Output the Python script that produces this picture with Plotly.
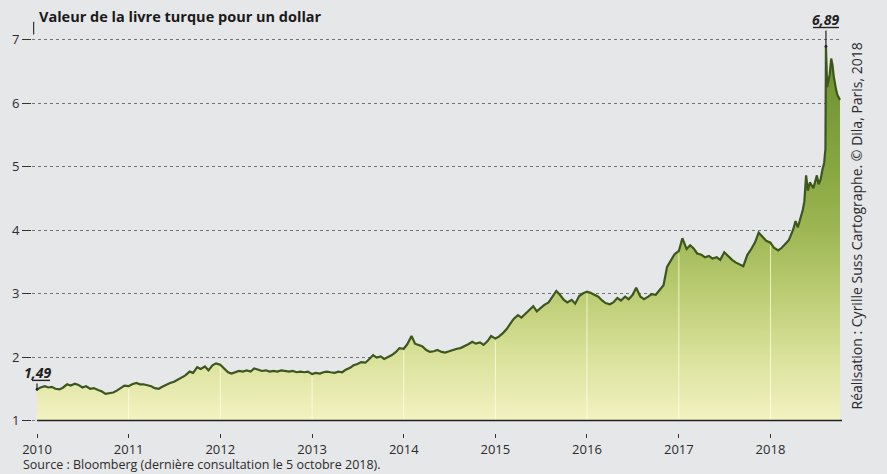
import plotly.graph_objects as go

# Semi-monthly readings (1st and 15th of each month), USD/TRY
v2010 = [1.49, 1.52, 1.54, 1.52, 1.53, 1.50, 1.49, 1.52, 1.57, 1.55, 1.58, 1.56,
         1.52, 1.54, 1.50, 1.51, 1.48, 1.46, 1.42, 1.43, 1.44, 1.47, 1.52, 1.55]
v2011 = [1.54, 1.57, 1.59, 1.57, 1.57, 1.56, 1.54, 1.51, 1.50, 1.53, 1.57, 1.59,
         1.61, 1.64, 1.67, 1.71, 1.77, 1.75, 1.84, 1.81, 1.85, 1.79, 1.87, 1.90]
v2012 = [1.88, 1.83, 1.76, 1.74, 1.76, 1.78, 1.77, 1.79, 1.77, 1.82, 1.80, 1.78,
         1.79, 1.77, 1.78, 1.77, 1.79, 1.78, 1.77, 1.78, 1.76, 1.77, 1.76, 1.77]
v2013 = [1.73, 1.75, 1.74, 1.76, 1.77, 1.76, 1.75, 1.77, 1.76, 1.80, 1.83, 1.87,
         1.89, 1.92, 1.91, 1.96, 2.03, 1.99, 2.01, 1.97, 2.00, 2.03, 2.08, 2.14]
v2014 = [2.13, 2.20, 2.33, 2.21, 2.19, 2.17, 2.11, 2.08, 2.09, 2.11, 2.08, 2.07,
         2.09, 2.11, 2.13, 2.14, 2.17, 2.20, 2.24, 2.21, 2.23, 2.19, 2.25, 2.33]
v2015 = [2.29, 2.32, 2.38, 2.44, 2.52, 2.60, 2.66, 2.62, 2.68, 2.74, 2.80, 2.72,
         2.78, 2.82, 2.86, 2.94, 3.04, 2.98, 2.90, 2.86, 2.90, 2.84, 2.96, 3.00]
v2016 = [3.03, 3.01, 2.98, 2.95, 2.89, 2.85, 2.83, 2.86, 2.93, 2.89, 2.95, 2.91,
         2.98, 3.09, 2.95, 2.91, 2.95, 2.99, 2.98, 3.04, 3.13, 3.42, 3.52, 3.62]
v2017 = [3.67, 3.87, 3.70, 3.76, 3.71, 3.63, 3.61, 3.57, 3.59, 3.55, 3.57, 3.53,
         3.65, 3.59, 3.53, 3.49, 3.46, 3.43, 3.61, 3.69, 3.81, 3.96, 3.89, 3.83]

# 2018: irregular dates
d2018 = ["2018-01-01", "2018-01-15", "2018-02-01", "2018-02-15", "2018-03-01", "2018-03-15",
         "2018-04-01", "2018-04-11", "2018-04-20", "2018-05-01", "2018-05-10", "2018-05-16",
         "2018-05-23", "2018-05-30", "2018-06-07", "2018-06-21", "2018-07-05", "2018-07-12",
         "2018-07-20", "2018-07-27", "2018-08-03", "2018-08-08", "2018-08-10", "2018-08-15",
         "2018-08-20", "2018-08-25", "2018-08-31", "2018-09-05", "2018-09-10", "2018-09-15",
         "2018-09-20", "2018-09-25", "2018-10-01", "2018-10-05"]
v2018 = [3.80, 3.72, 3.68, 3.72, 3.78, 3.84,
         4.00, 4.14, 4.04, 4.18, 4.32, 4.45,
         4.86, 4.62, 4.75, 4.66, 4.86, 4.72,
         4.80, 4.95, 5.06, 5.28, 6.89, 6.25,
         6.35, 6.45, 6.70, 6.60, 6.42, 6.28,
         6.20, 6.12, 6.06, 6.05]

year_ticks = [2010, 2011, 2012, 2013, 2014, 2015, 2016, 2017, 2018]
y_ticks = [1, 2, 3, 4, 5, 6, 7]

title = "Valeur de la livre turque pour un dollar"
source = "Source : Bloomberg (dernière consultation le 5 octobre 2018)."
credit = "Réalisation : Cyrille Suss Cartographe. © Dila, Paris, 2018"

# ---- build series ----
series = {2010: v2010, 2011: v2011, 2012: v2012, 2013: v2013,
          2014: v2014, 2015: v2015, 2016: v2016, 2017: v2017}
dates, vals = [], []
for yr, vs in series.items():
    for i, v in enumerate(vs):
        dates.append(f"{yr}-{i // 2 + 1:02d}-{1 if i % 2 == 0 else 15:02d}")
        vals.append(v)
dates += d2018
vals += v2018

FONT = "Open Sans"
TXT = "#2b2b2b"
BG = "#e6e7e9"

fig = go.Figure()
# baseline (y = 1) used as fill boundary
fig.add_trace(go.Scatter(x=[dates[0], dates[-1]], y=[1, 1], mode="lines",
                         line=dict(width=0), hoverinfo="skip", showlegend=False))
fig.add_trace(go.Scatter(
    x=dates, y=vals, mode="lines", fill="tonexty",
    line=dict(color="#3c561c", width=2.2),
    fillgradient=dict(type="vertical", start=1, stop=7,
                      colorscale=[[0.0, "#f3f2c2"], [0.17, "#d9e19a"], [0.33, "#bccd74"],
                                  [0.5, "#9db653"], [0.67, "#86a640"], [1.0, "#698d2d"]]),
    showlegend=False))

shapes = []
# vertical pale year lines inside the fill
lookup = dict(zip(dates, vals))
for yr in year_ticks[1:]:
    d = f"{yr}-01-01"
    shapes.append(dict(type="line", xref="x", yref="y", x0=d, x1=d, y0=1, y1=lookup[d] - 0.04,
                       line=dict(color="rgba(255,255,228,0.75)", width=1), layer="above"))
# solid baseline at 1
shapes.append(dict(type="line", xref="x", yref="y", x0=dates[0], x1="2018-10-13", y0=1, y1=1,
                   line=dict(color="#222", width=1.6), layer="above"))
# small axis stub beside the title
shapes.append(dict(type="line", xref="paper", yref="y", x0=0.002, x1=0.002, y0=7.08, y1=7.28,
                   line=dict(color="#333", width=1.2)))

# label underlines
i_peak = vals.index(max(vals))
for idx, up in [(0, 9), (i_peak, 19)]:
    shapes.append(dict(type="line", xref="x", yref="y", xsizemode="pixel", ysizemode="pixel",
                       xanchor=dates[idx], yanchor=vals[idx], x0=-13, x1=13, y0=up, y1=up,
                       line=dict(color="#222", width=1.4)))

annotations = [
    dict(x=dates[0], y=vals[0], text=f"<b><i>{vals[0]:.2f}</i></b>".replace(".", ","),
         showarrow=True, arrowhead=6, arrowsize=0.6, arrowwidth=1.2, arrowcolor="#222",
         ax=0, ay=-17, font=dict(family=FONT, size=14, color="#222")),
    dict(x=dates[i_peak], y=vals[i_peak], text=f"<b><i>{vals[i_peak]:.2f}</i></b>".replace(".", ","),
         showarrow=True, arrowhead=6, arrowsize=0.6, arrowwidth=1.2, arrowcolor="#222",
         ax=0, ay=-27, font=dict(family=FONT, size=14, color="#222")),
    dict(xref="paper", yref="paper", x=0.006, y=1.004, xanchor="left", yanchor="middle",
         text=f"<b>{title}</b>", showarrow=False, font=dict(family=FONT, size=14.5, color="#1a1a1a")),
    dict(xref="paper", yref="paper", x=1.0185, y=0.5, xanchor="center", yanchor="middle",
         text=credit, textangle=-90, showarrow=False, font=dict(family=FONT, size=14, color=TXT)),
    dict(xref="paper", yref="paper", x=-0.014, y=-0.077, xanchor="left", yanchor="middle",
         text=source, showarrow=False, font=dict(family=FONT, size=12.5, color=TXT)),
]

fig.update_layout(
    width=887, height=474,
    margin=dict(l=29, r=45, t=18, b=41),
    paper_bgcolor=BG, plot_bgcolor=BG,
    shapes=shapes, annotations=annotations,
    font=dict(family=FONT, color=TXT),
    xaxis=dict(type="date", range=["2009-12-12", "2018-10-13"],
               tickvals=[f"{y}-01-01" for y in year_ticks], ticktext=[str(y) for y in year_ticks],
               ticks="outside", ticklen=4, tickwidth=1.2, tickcolor="#333",
               showgrid=False, showline=False, zeroline=False,
               tickfont=dict(family=FONT, size=13, color=TXT)),
    yaxis=dict(range=[0.803, 7.339], tickvals=y_ticks, ticktext=[str(t) for t in y_ticks],
               ticks="outside", ticklen=9, tickwidth=1.2, tickcolor="#333",
               showgrid=True, gridcolor="#747474", gridwidth=1, griddash="dot",
               showline=False, zeroline=False,
               tickfont=dict(family=FONT, size=13, color=TXT)),
)

fig.write_html("out.html")
